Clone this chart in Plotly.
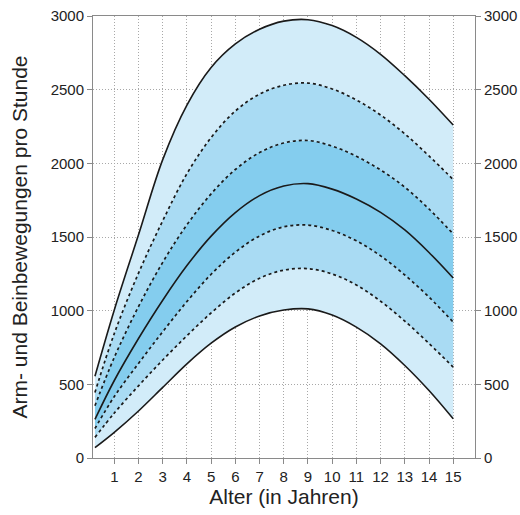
import plotly.graph_objects as go

# Age in years
age = [0.2, 1, 2, 3, 4, 5, 6, 7, 8, 9, 10, 11, 12, 13, 14, 15]

# Percentile-like curves (movements per hour)
p_top = [555, 1005, 1515, 2025, 2395, 2650, 2810, 2910, 2965, 2975, 2935, 2855, 2740, 2595, 2435, 2260]
p_d2 = [445, 845, 1255, 1610, 1930, 2175, 2355, 2470, 2530, 2545, 2505, 2430, 2328, 2200, 2050, 1890]
p_d3 = [355, 683, 1028, 1328, 1583, 1793, 1958, 2073, 2138, 2155, 2117, 2048, 1955, 1838, 1690, 1521]
p_mid = [262, 526, 811, 1071, 1306, 1506, 1666, 1781, 1846, 1862, 1825, 1758, 1667, 1548, 1395, 1222]
p_d5 = [200, 417, 642, 857, 1062, 1247, 1397, 1507, 1569, 1581, 1544, 1474, 1372, 1242, 1092, 922]
p_d6 = [140, 305, 490, 665, 830, 985, 1120, 1220, 1275, 1285, 1249, 1174, 1064, 929, 777, 617]
p_bot = [70, 174, 319, 479, 639, 779, 889, 964, 1004, 1012, 970, 888, 775, 628, 458, 266]

x_ticks = list(range(1, 16))
y_ticks = [0, 500, 1000, 1500, 2000, 2500, 3000]

c_outer = "#d2ecf9"
c_midband = "#a9dbf3"
c_inner = "#84cdee"

fig = go.Figure()
series = [
    (p_bot, None, "solid"),
    (p_d6, c_outer, "dot"),
    (p_d5, c_midband, "dot"),
    (p_mid, c_inner, "solid"),
    (p_d3, c_inner, "dot"),
    (p_d2, c_midband, "dot"),
    (p_top, c_outer, "solid"),
]
for vals, fc, dash in series:
    fig.add_trace(go.Scatter(
        x=age, y=vals, mode="lines",
        line=dict(color="#1a1a1a", width=1.6 if dash == "solid" else 1.7,
                  dash=dash, shape="spline", smoothing=1.0),
        fill="tonexty" if fc else None, fillcolor=fc,
        showlegend=False, hoverinfo="skip",
    ))

# invisible trace for the right axis
fig.add_trace(go.Scatter(x=[age[0]], y=[0], yaxis="y2", mode="markers",
                         marker=dict(opacity=0), showlegend=False, hoverinfo="skip"))

font_fam = "Liberation Sans, Arial, sans-serif"
grid_dash = "1px,2px"
fig.update_layout(
    width=520, height=515,
    margin=dict(l=93, r=45, t=16, b=57),
    paper_bgcolor="white", plot_bgcolor="white",
    font=dict(family=font_fam, size=15, color="#222"),
    xaxis=dict(
        range=[0.12, 15.9], tickvals=x_ticks, ticktext=[str(v) for v in x_ticks],
        showgrid=True, gridcolor="#a8a8a8", griddash=grid_dash, gridwidth=1,
        showline=True, linecolor="#8a8a8a", linewidth=1, mirror=True,
        ticks="outside", ticklen=5, tickcolor="#8a8a8a",
        zeroline=False, layer="above traces", automargin=False,
        title=dict(text="Alter (in Jahren)", font=dict(size=21), standoff=2),
        tickfont=dict(size=15),
    ),
    yaxis=dict(
        range=[0, 3000], tickvals=y_ticks,
        showgrid=True, gridcolor="#a8a8a8", griddash=grid_dash, gridwidth=1,
        showline=True, linecolor="#8a8a8a", linewidth=1,
        ticks="outside", ticklen=5, tickcolor="#8a8a8a",
        zeroline=False, layer="above traces", automargin=False,
        title=dict(text="Arm- und Beinbewegungen pro Stunde", font=dict(size=21), standoff=17),
        tickfont=dict(size=15),
    ),
    yaxis2=dict(
        range=[0, 3000], tickvals=y_ticks, overlaying="y", side="right",
        showgrid=False, showline=True, linecolor="#8a8a8a", linewidth=1,
        ticks="outside", ticklen=5, tickcolor="#8a8a8a", zeroline=False,
        automargin=False, tickfont=dict(size=15),
    ),
)

fig.write_html("out.html", config={"displayModeBar": False},
               post_script="document.body.style.margin='0';")
